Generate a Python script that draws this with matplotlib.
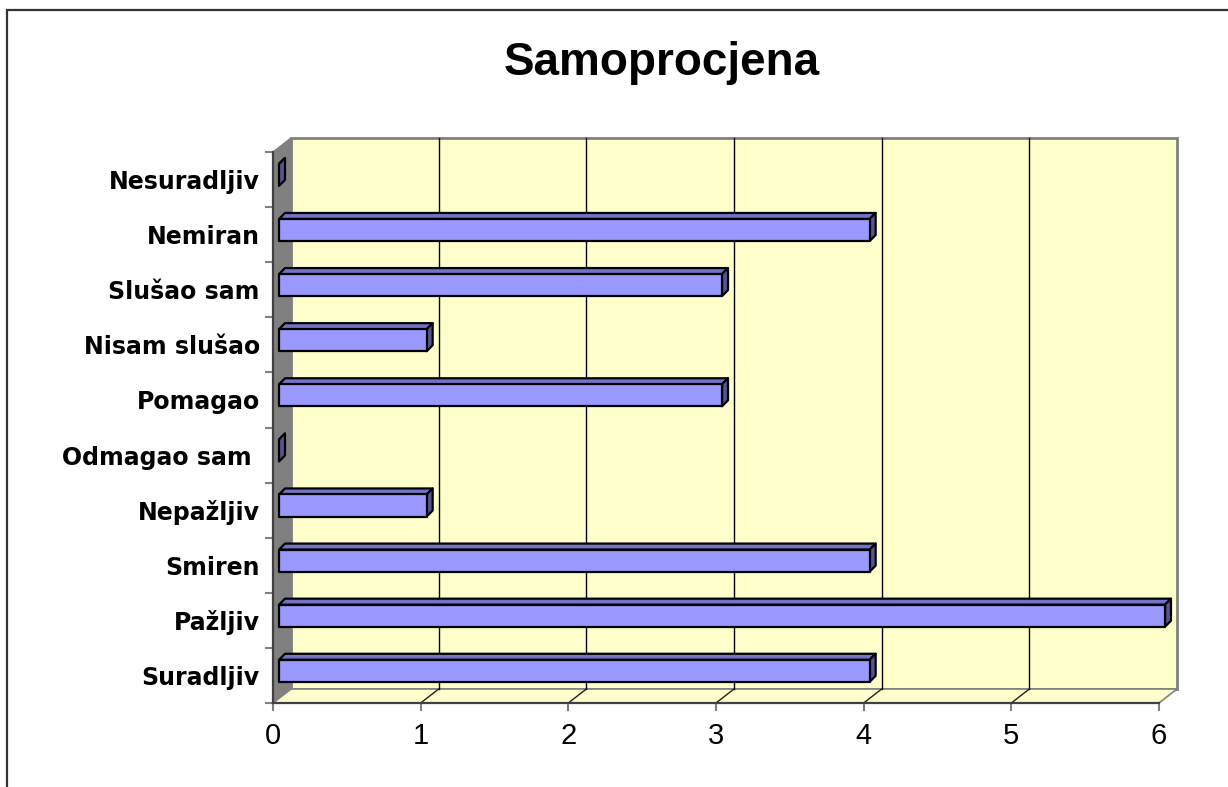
import matplotlib
matplotlib.use("Agg")
import matplotlib.pyplot as plt
from matplotlib.patches import Polygon, Rectangle

# data (bottom to top, as in the chart)
categories = ["Suradljiv", "Pažljiv", "Smiren", "Nepažljiv", "Odmagao sam ",
              "Pomagao", "Nisam slušao", "Slušao sam", "Nemiran", "Nesuradljiv"]
values = [4, 6, 4, 1, 0, 3, 1, 3, 4, 0]
xticks = [0, 1, 2, 3, 4, 5, 6]
title = "Samoprocjena"

W, H = 1228, 787
fig = plt.figure(figsize=(W / 100, H / 100), dpi=100)

# front plane of the 3d box in pixels
left, right, top, bottom = 273, 1159, 152, 703
ax = fig.add_axes([left / W, (H - bottom) / H, (right - left) / W, (bottom - top) / H])
xmax = xticks[-1]
n = len(categories)
ax.set_xlim(0, xmax)
ax.set_ylim(0, n)
ax.patch.set_visible(False)

# depth offset of the 3d box in data units
px_x = (right - left) / xmax
px_y = (bottom - top) / n
DX = 18 / px_x
DY = 14 / px_y

wall = "#FFFFCC"
edge = "#808080"

# back wall, side wall, floor
ax.add_patch(Polygon([(DX, DY), (xmax + DX, DY), (xmax + DX, n + DY), (DX, n + DY)],
                     closed=True, fc=wall, ec=edge, lw=2, clip_on=False, zorder=1))
ax.add_patch(Polygon([(0, 0), (0, n), (DX, n + DY), (DX, DY)],
                     closed=True, fc="#808080", ec="#808080", lw=1, clip_on=False, zorder=1.1))
ax.add_patch(Polygon([(0, 0), (xmax, 0), (xmax + DX, DY), (DX, DY)],
                     closed=True, fc=wall, ec=edge, lw=1.2, clip_on=False, zorder=1.1))

# gridlines on the back wall and floor
for k in xticks[1:-1]:
    ax.plot([k + DX, k + DX], [DY, n + DY], color="black", lw=1, clip_on=False, zorder=1.2)
    ax.plot([k, k + DX], [0, DY], color="#202020", lw=1, clip_on=False, zorder=1.2)

# 3d bars
bw = 0.4
sx, sy = DX / 3, DY / 3          # bar front sits a third into the depth
bx, by = 6 / px_x, 6 / px_y      # bar depth
for i, v in enumerate(values):
    y0 = i + 0.5 - bw / 2 + sy
    y1 = y0 + bw
    x0 = sx
    x1 = sx + v
    front = [(x0, y0), (x1, y0), (x1, y1), (x0, y1)]
    topf = [(x0, y1), (x1, y1), (x1 + bx, y1 + by), (x0 + bx, y1 + by)]
    side = [(x1, y0), (x1 + bx, y0 + by), (x1 + bx, y1 + by), (x1, y1)]
    ax.add_patch(Polygon(topf, closed=True, fc="#7373C8", ec="black", lw=1.6,
                         clip_on=False, zorder=3, joinstyle="round"))
    ax.add_patch(Polygon(side, closed=True, fc="#55558F", ec="black", lw=1.6,
                         clip_on=False, zorder=3, joinstyle="round"))
    if v > 0:
        ax.add_patch(Polygon(front, closed=True, fc="#9999FF", ec="black", lw=1.6,
                             clip_on=False, zorder=3.1, joinstyle="round"))

# axes lines and ticks
for s in ["top", "right"]:
    ax.spines[s].set_visible(False)
for s in ["left", "bottom"]:
    ax.spines[s].set_color("#404040")
    ax.spines[s].set_linewidth(1.6)
    ax.spines[s].set_zorder(2)

ax.set_xticks(xticks)
ax.set_xticklabels([str(t) for t in xticks], fontsize=21, family="Liberation Sans")
ax.tick_params(axis="x", length=6, width=1.5, color="#808080", pad=8)

ax.set_yticks(range(n + 1))
ax.set_yticklabels([])
ax.tick_params(axis="y", which="major", length=6, width=1.5, color="#808080")
ax.set_yticks([i + 0.5 for i in range(n)], minor=True)
ax.set_yticklabels(categories, minor=True, fontsize=17, fontweight="bold", family="DejaVu Sans")
ax.tick_params(axis="y", which="minor", length=0, pad=9.5)

# title
fig.text(662 / W, 1 - 75 / H, title, ha="center", va="baseline",
         fontsize=33, fontweight="bold", family="Liberation Sans")

# chart area border (runs past the right and bottom edges)
fig.patches.append(Rectangle((7 / W, -0.1), 1.1, 1 - 10 / H + 0.1, transform=fig.transFigure,
                             fill=False, ec="#333333", lw=1.6))

fig.savefig("out.png", dpi=100)
